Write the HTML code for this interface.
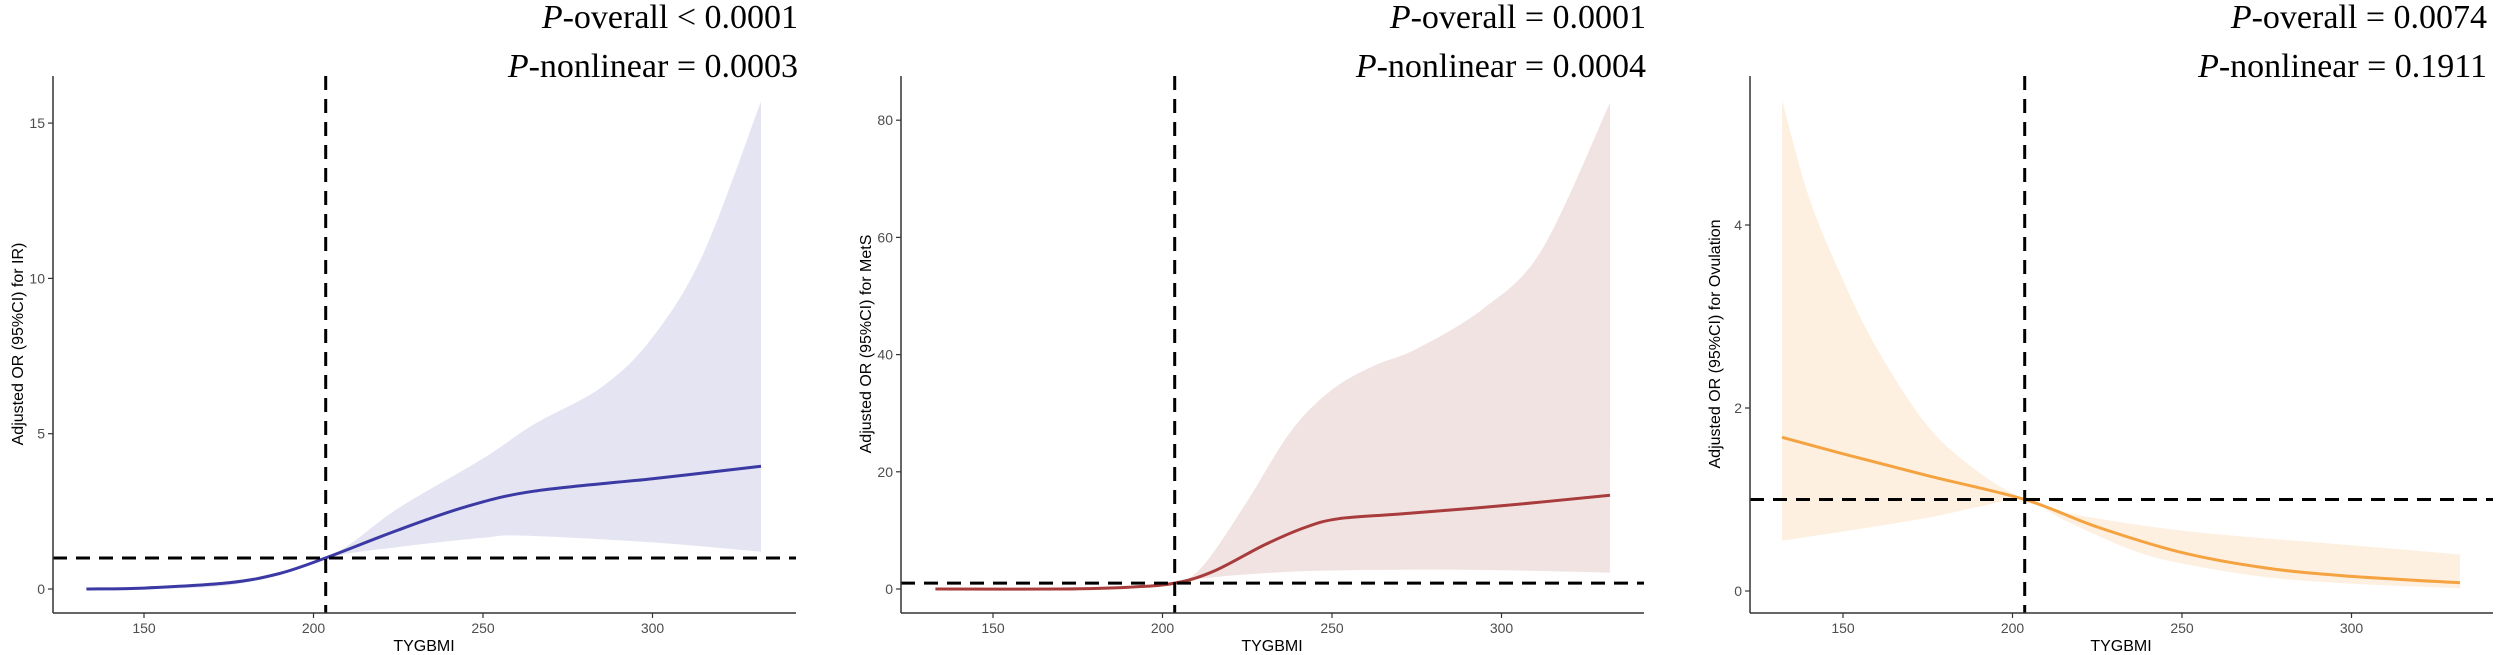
<!DOCTYPE html>
<html><head><meta charset="utf-8"><style>
html,body{margin:0;padding:0;background:#fff;}
svg{display:block;}
.tk{font-family:"Liberation Sans",sans-serif;font-size:14px;fill:#4d4d4d;}
.at{font-family:"Liberation Sans",sans-serif;font-size:16px;fill:#000;}
.pt{font-family:"Liberation Serif",serif;font-size:34px;fill:#000;}
</style></head><body>
<svg id="s" width="2500" height="655" viewBox="0 0 2500 655" xmlns="http://www.w3.org/2000/svg">
<text class="pt" x="798" y="28" text-anchor="end"><tspan font-style="italic">P</tspan>-overall &lt; 0.0001</text>
<text class="pt" x="798" y="77" text-anchor="end"><tspan font-style="italic">P</tspan>-nonlinear = 0.0003</text>
<text class="pt" x="1646" y="28" text-anchor="end"><tspan font-style="italic">P</tspan>-overall = 0.0001</text>
<text class="pt" x="1646" y="77" text-anchor="end"><tspan font-style="italic">P</tspan>-nonlinear = 0.0004</text>
<text class="pt" x="2487" y="28" text-anchor="end"><tspan font-style="italic">P</tspan>-overall = 0.0074</text>
<text class="pt" x="2487" y="77" text-anchor="end"><tspan font-style="italic">P</tspan>-nonlinear = 0.1911</text>
</svg>
<script>
var s=document.getElementById('s'),NS='http://www.w3.org/2000/svg';
function el(t,a,txt){var e=document.createElementNS(NS,t);for(var k in a)e.setAttribute(k,a[k]);if(txt!=null)e.textContent=txt;s.appendChild(e);return e;}
function path(pts){var d='M'+pts[0][0].toFixed(1)+','+pts[0][1].toFixed(1);
for(var i=0;i<pts.length-1;i++){var p0=pts[Math.max(0,i-1)],p1=pts[i],p2=pts[i+1],p3=pts[Math.min(pts.length-1,i+2)];
d+=' C'+(p1[0]+(p2[0]-p0[0])/6).toFixed(1)+','+(p1[1]+(p2[1]-p0[1])/6).toFixed(1)+' '+(p2[0]-(p3[0]-p1[0])/6).toFixed(1)+','+(p2[1]-(p3[1]-p1[1])/6).toFixed(1)+' '+p2[0].toFixed(1)+','+p2[1].toFixed(1);}
return d;}
function panel(o){
 var X=function(v){return o.x150+(v-150)*3.39;},Y=function(v){return o.y0-v*o.ppu;};
 var up=o.up.map(function(p){return [X(p[0]),Y(p[1])];}),lo=o.lo.map(function(p){return [X(p[0]),Y(p[1])];});
 var lr=lo.slice().reverse();
 var d=path(up)+' L'+lr[0][0]+','+lr[0][1]+' '+path(lr).slice(1)+' Z';
 el('path',{d:d,fill:o.band,stroke:'none'});
 el('path',{d:path(o.ln.map(function(p){return [X(p[0]),Y(p[1])];})),fill:'none',stroke:o.col,'stroke-width':3});
 el('line',{x1:o.ax,y1:Y(1),x2:o.ax+743,y2:Y(1),stroke:'#000','stroke-width':3,'stroke-dasharray':'14,9'});
 el('line',{x1:X(203.6),y1:76,x2:X(203.6),y2:613,stroke:'#000','stroke-width':3,'stroke-dasharray':'14,9'});
 el('line',{x1:o.ax,y1:76,x2:o.ax,y2:613,stroke:'#333','stroke-width':1.5});
 el('line',{x1:o.ax,y1:613,x2:o.ax+743,y2:613,stroke:'#333','stroke-width':1.5});
 o.yt.forEach(function(v){var y=Y(v);el('line',{x1:o.ax-5,y1:y,x2:o.ax,y2:y,stroke:'#333','stroke-width':1.2});el('text',{'class':'tk',x:o.ax-8,y:y+5,'text-anchor':'end'},String(v));});
 [150,200,250,300].forEach(function(v){var x=X(v);el('line',{x1:x,y1:613,x2:x,y2:618,stroke:'#333','stroke-width':1.2});el('text',{'class':'tk',x:x,y:633,'text-anchor':'middle'},String(v));});
 el('text',{'class':'at',x:o.ax+371,y:651,'text-anchor':'middle'},'TYGBMI');
 el('text',{'class':'at',x:0,y:0,'text-anchor':'middle',transform:'translate('+(o.ax-30)+',344) rotate(-90)'},o.lab);
}
panel({ax:53,x150:144,y0:589,ppu:31.06,yt:[0,5,10,15],col:'#3b39a3',band:'#e4e4f3',lab:'Adjusted OR (95%CI) for IR)',
 ln:[[133,0],[150,0.03],[175,0.2],[190,0.5],[203.6,1],[225,1.9],[245,2.65],[265,3.15],[300,3.55],[332,3.95]],
 up:[[133,0.02],[175,0.25],[203.6,1],[225,2.6],[250,4.2],[265,5.3],[285,6.5],[300,8.1],[315,10.8],[332,15.7]],
 lo:[[133,0],[175,0.12],[203.6,1],[225,1.35],[250,1.65],[262,1.72],[300,1.5],[332,1.2]]});
panel({ax:901,x150:993,y0:589,ppu:5.86,yt:[0,20,40,60,80],col:'#a83c3c',band:'#f2e3e3',lab:'Adjusted OR (95%CI) for MetS',
 ln:[[133,0],[170,0],[190,0.3],[203.6,1],[215,3],[230,7.5],[242,10.5],[252,12],[270,12.8],[300,14.2],[332,16]],
 up:[[133,0],[190,0.4],[203.6,1],[212,4],[225,15],[238,27],[250,34],[262,38],[275,41],[295,48],[312,58],[332,83]],
 lo:[[133,0],[190,0.2],[203.6,1],[215,2],[240,3],[270,3.3],[300,3.2],[332,2.8]]});
panel({ax:1750,x150:1843,y0:591,ppu:91.5,yt:[0,2,4],col:'#f4a340',band:'#fdf0e1',lab:'Adjusted OR (95%CI) for Ovulation',
 ln:[[132,1.68],[150,1.5],[175,1.26],[203.6,1],[225,0.7],[250,0.42],[275,0.25],[300,0.16],[332,0.09]],
 up:[[132,5.37],[140,4.3],[150,3.4],[160,2.65],[175,1.8],[190,1.3],[203.6,1],[215,0.86],[250,0.66],[300,0.5],[332,0.4]],
 lo:[[132,0.55],[150,0.65],[175,0.8],[190,0.92],[203.6,1],[215,0.78],[235,0.45],[250,0.3],[275,0.15],[300,0.08],[332,0.03]]});
</script>
</body></html>
